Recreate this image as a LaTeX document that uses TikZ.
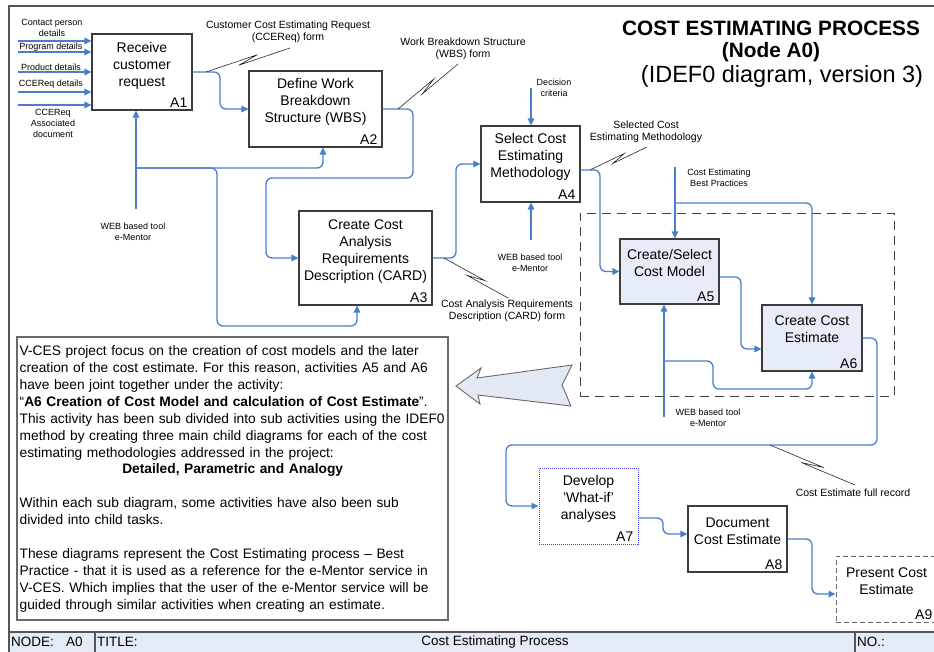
\documentclass[tikz,border=0pt]{standalone}
\usepackage{fontspec}
\setmainfont{Liberation Sans}
\usetikzlibrary{arrows.meta,calc}

\definecolor{flowblue}{RGB}{74,126,205}
\definecolor{boxline}{RGB}{60,60,60}
\definecolor{actfill}{RGB}{230,236,248}
\definecolor{barfill}{RGB}{228,235,246}
\definecolor{framegray}{RGB}{85,85,85}
\definecolor{notegray}{RGB}{105,105,105}
\definecolor{dotblue}{RGB}{70,70,235}
\definecolor{arrowfill}{RGB}{226,233,245}

% IDEF0 "squiggle": ties an arrow label to its arrow with a broken line
\newcommand{\squiggle}[2]{%
  \draw[squig] (#1) -- ($(#1)!0.62!(#2)!2.5pt!90:(#2)$)
    -- ($(#1)!0.38!(#2)!2.5pt!-90:(#2)$) -- (#2);}

\tikzset{
  act/.style={draw=boxline, line width=1.1pt, fill=white, inner sep=0pt},
  acttext/.style={yshift=9pt, align=center, inner sep=0pt,
    font=\fontsize{14}{17}\selectfont},
  actid/.style={anchor=south east, inner xsep=5pt, inner ysep=3pt,
    font=\fontsize{14}{17}\selectfont},
  flow/.style={draw=flowblue, line width=1.3pt, rounded corners=6pt,
    -{Triangle[length=7pt,width=6.5pt]}},
  small/.style={align=center, inner sep=0pt, font=\fontsize{9}{11}\selectfont},
  outlbl/.style={align=center, inner sep=0pt, font=\fontsize{10.5}{12}\selectfont},
  squig/.style={draw=black!85, line width=0.6pt},
  barlbl/.style={inner sep=0pt, font=\fontsize{13.5}{16}\selectfont},
}

\begin{document}
\begin{tikzpicture}[x=1pt, y=-1pt]
\useasboundingbox (0,0) rectangle (934,651);
\clip (0,0) rectangle (934,651);
\fill[white] (0,0) rectangle (934,651);

% sheet frame and bottom title bar
\fill[barfill] (9,632) rectangle (940,655);
\draw[framegray, line width=1.3pt] (9,655) -- (9,6) -- (940,6);
\draw[framegray, line width=1.1pt] (9,632) -- (940,632);
\draw[framegray, line width=1.1pt] (95,632) -- (95,655);
\draw[framegray, line width=1.1pt] (855,632) -- (855,655);
\node[barlbl, anchor=west] (bnode) at (11,642) {NODE:};
\node[barlbl, anchor=west] (bnodeid) at (66,642) {A0};
\node[barlbl, anchor=west] (btitle) at (97,642) {TITLE:};
\node[barlbl] (bname) at (495,642) {Cost Estimating Process};
\node[barlbl, anchor=west] (bno) at (857,642) {NO.:};

% heading
\node[font=\fontsize{20.8}{24}\selectfont\bfseries, inner sep=0pt] (h1) at (771,28) {COST ESTIMATING PROCESS};
\node[font=\fontsize{20.8}{24}\selectfont\bfseries, inner sep=0pt] (h2) at (771,52) {(Node A0)};
\node[font=\fontsize{23.5}{26}\selectfont, inner sep=0pt] (h3) at (782,76) {(IDEF0 diagram, version 3)};

% group of A5 and A6
\node[draw=black!75, line width=1pt, dash pattern=on 9pt off 6pt,
  minimum width=314pt, minimum height=183pt, inner sep=0pt] (grp) at (737,304.5) {};

% activities
\node[act, minimum width=100pt, minimum height=76pt,
  label={[acttext, yshift=-3pt]center:{Receive\\customer\\request}},
  label={[actid]south east:A1}] (A1) at (142,72) {};
\node[act, minimum width=133pt, minimum height=76pt,
  label={[acttext, yshift=-1.5pt]center:{Define Work\\Breakdown\\Structure (WBS)}},
  label={[actid]south east:A2}] (A2) at (315.5,109) {};
\node[act, minimum width=133pt, minimum height=94pt,
  label={[acttext, yshift=-3pt]center:{Create Cost\\Analysis\\Requirements\\Description (CARD)}},
  label={[actid]south east:A3}] (A3) at (365.5,258) {};
\node[act, minimum width=99pt, minimum height=76pt,
  label={[acttext, yshift=-1.5pt]center:{Select Cost\\Estimating\\Methodology}},
  label={[actid]south east:A4}] (A4) at (530.5,164) {};
\node[act, fill=actfill, minimum width=99pt, minimum height=65pt,
  label={[acttext]center:{Create/Select\\Cost Model}},
  label={[actid]south east:A5}] (A5) at (669.5,271.5) {};
\node[act, fill=actfill, minimum width=100pt, minimum height=66pt,
  label={[acttext]center:{Create Cost\\Estimate}},
  label={[actid]south east:A6}] (A6) at (812,338) {};
\node[act, draw=dotblue, line width=1pt, densely dotted, minimum width=99pt, minimum height=76pt,
  label={[acttext, yshift=-2pt]center:{Develop\\'What-if'\\analyses}},
  label={[actid]south east:A7}] (A7) at (588.5,506) {};
\node[act, minimum width=99pt, minimum height=66pt,
  label={[acttext, yshift=-1pt]center:{Document\\Cost Estimate}},
  label={[actid]south east:A8}] (A8) at (737.5,539) {};
\node[act, draw=black!60, line width=1pt, dash pattern=on 5pt off 3pt, minimum width=101pt, minimum height=66pt,
  label={[acttext, yshift=-1pt]center:{Present Cost\\Estimate}},
  label={[actid]south east:A9}] (A9) at (886.5,589) {};

% inputs of A1
\node[small] (lcp) at (52,27.5) {Contact person\\details};
\node[small] (lpg) at (51,47) {Program details};
\node[small] (lpd) at (51,67) {Product details};
\node[small] (lcc) at (51,84) {CCEReq details};
\node[small] (lca) at (53,123) {CCEReq\\Associated\\document};
\foreach \y/\n in {41/i1, 52/i2, 72/i3, 92/i4, 105/i5} {
  \coordinate (\n) at (18,\y);
  \draw[flow] (\n) -- (\n -| A1.west);
}

% outputs passing from activity to activity
\draw[flow] (A1.east) -| (220,109) -- (A2.west);
\draw[flow] (A2.east) -| (413,178) -| (266,258) -- (A3.west);
\draw[flow] (A3.east) -| (456,164) -- (A4.west);
\draw[flow] ([yshift=-6pt]A4.east) -| (600,271.5) -- (A5.west);
\draw[flow] ([yshift=-5.5pt]A5.east) -| (741,349) -- ([yshift=-11pt]A6.west);
\draw[flow] (A6.east) -| (877,445) -| (506,506) -- (A7.west);
\draw[flow] ([yshift=-12pt]A7.east) -| (663,534) -- ([yshift=5pt]A8.west);
\draw[flow] (A8.east) -| (812,594) -- ([yshift=-5pt]A9.west);

% mechanism of A1, A2 and A3
\coordinate (m1) at (136,209);
\coordinate (m1j) at (136,168);
\draw[flow] (m1) -- (m1 |- A1.south);
\draw[flow] (m1j) -| ([xshift=7.5pt]A2.south);
\draw[flow] (m1j) -| (217,326) -| ([xshift=-8.5pt]A3.south);
\node[small] (lm1) at (133,231.5) {WEB based tool\\e-Mentor};

% control and mechanism of A4
\coordinate (dc) at (531,88);
\draw[flow] (dc) -- (dc |- A4.north);
\node[small] (ldc) at (554,87.5) {Decision\\criteria};
\coordinate (m4) at (531,240);
\draw[flow] (m4) -- (m4 |- A4.south);
\node[small] (lm4) at (530,262.5) {WEB based tool\\e-Mentor};

% control of A5 and A6
\coordinate (bp) at (675,167);
\coordinate (bpj) at (675,203);
\draw[flow] (bp) -- (bp |- A5.north);
\draw[flow] (bpj) -| (A6.north);
\node[small] (lbp) at (719,177.5) {Cost Estimating\\Best Practices};

% mechanism of A5 and A6
\coordinate (m5) at (664,417);
\coordinate (m5j) at (664,361);
\draw[flow] (m5) -- (m5 |- A5.south);
\draw[flow] (m5j) -| (713,389) -| (A6.south);
\node[small] (lm5) at (708,417.5) {WEB based tool\\e-Mentor};

% arrow labels with squiggles
\node[outlbl] (lccr) at (288,32) {Customer Cost Estimating Request\\(CCEReq) form};
\coordinate (q1a) at (206,72); \coordinate (q1b) at (290,48);
\squiggle{q1a}{q1b}
\node[outlbl] (lwbs) at (463,48.5) {Work Breakdown Structure\\(WBS) form};
\coordinate (q2a) at (398,109); \coordinate (q2b) at (458,64);
\squiggle{q2a}{q2b}
\node[outlbl] (lsel) at (646,131.5) {Selected Cost\\Estimating Methodology};
\coordinate (q3a) at (590,170); \coordinate (q3b) at (647,147);
\squiggle{q3a}{q3b}
\node[outlbl] (lcard) at (507,311) {Cost Analysis Requirements\\Description (CARD) form};
\coordinate (q4a) at (444,258); \coordinate (q4b) at (508,298);
\squiggle{q4a}{q4b}
\node[outlbl] (lfull) at (853,493) {Cost Estimate full record};
\coordinate (q5a) at (770,445); \coordinate (q5b) at (855,485);
\squiggle{q5a}{q5b}

% note on the decomposition of A5/A6
\node[draw=notegray, line width=1.3pt, minimum width=431pt, minimum height=283pt,
  inner sep=0pt] (note) at (232.5,478.5) {};
\node[anchor=north west, inner sep=0pt, text width=445pt, align=left,
  font=\fontsize{13.75}{16.9}\selectfont\frenchspacing] (notetext) at (19.5,345.5) {%
V-CES project focus on the creation of cost models and the later\\
creation of the cost estimate. For this reason, activities A5 and A6\\
have been joint together under the activity:\\
“\textbf{A6 Creation of Cost Model and calculation of Cost Estimate}”.\\
This activity has been sub divided into sub activities using the IDEF0\\
method by creating three main child diagrams for each of the cost\\
estimating methodologies addressed in the project:\\
\makebox[426pt][c]{\textbf{Detailed, Parametric and Analogy}}\\[16.9pt]
Within each sub diagram, some activities have also been sub\\
divided into child tasks.\\[16.9pt]
These diagrams represent the Cost Estimating process – Best\\
Practice - that it is used as a reference for the e-Mentor service in\\
V-CES. Which implies that the user of the e-Mentor service will be\\
guided through similar activities when creating an estimate.};

% big arrow pointing from the A5/A6 group to the note
\draw[draw=notegray, line width=0.9pt, fill=arrowfill, line join=miter]
  (456,386) -- (481,368) -- (477,378) -- (572,365) -- (562,385)
  -- (571,406) -- (478,395) -- (480,404) -- cycle;
\end{tikzpicture}
\end{document}
